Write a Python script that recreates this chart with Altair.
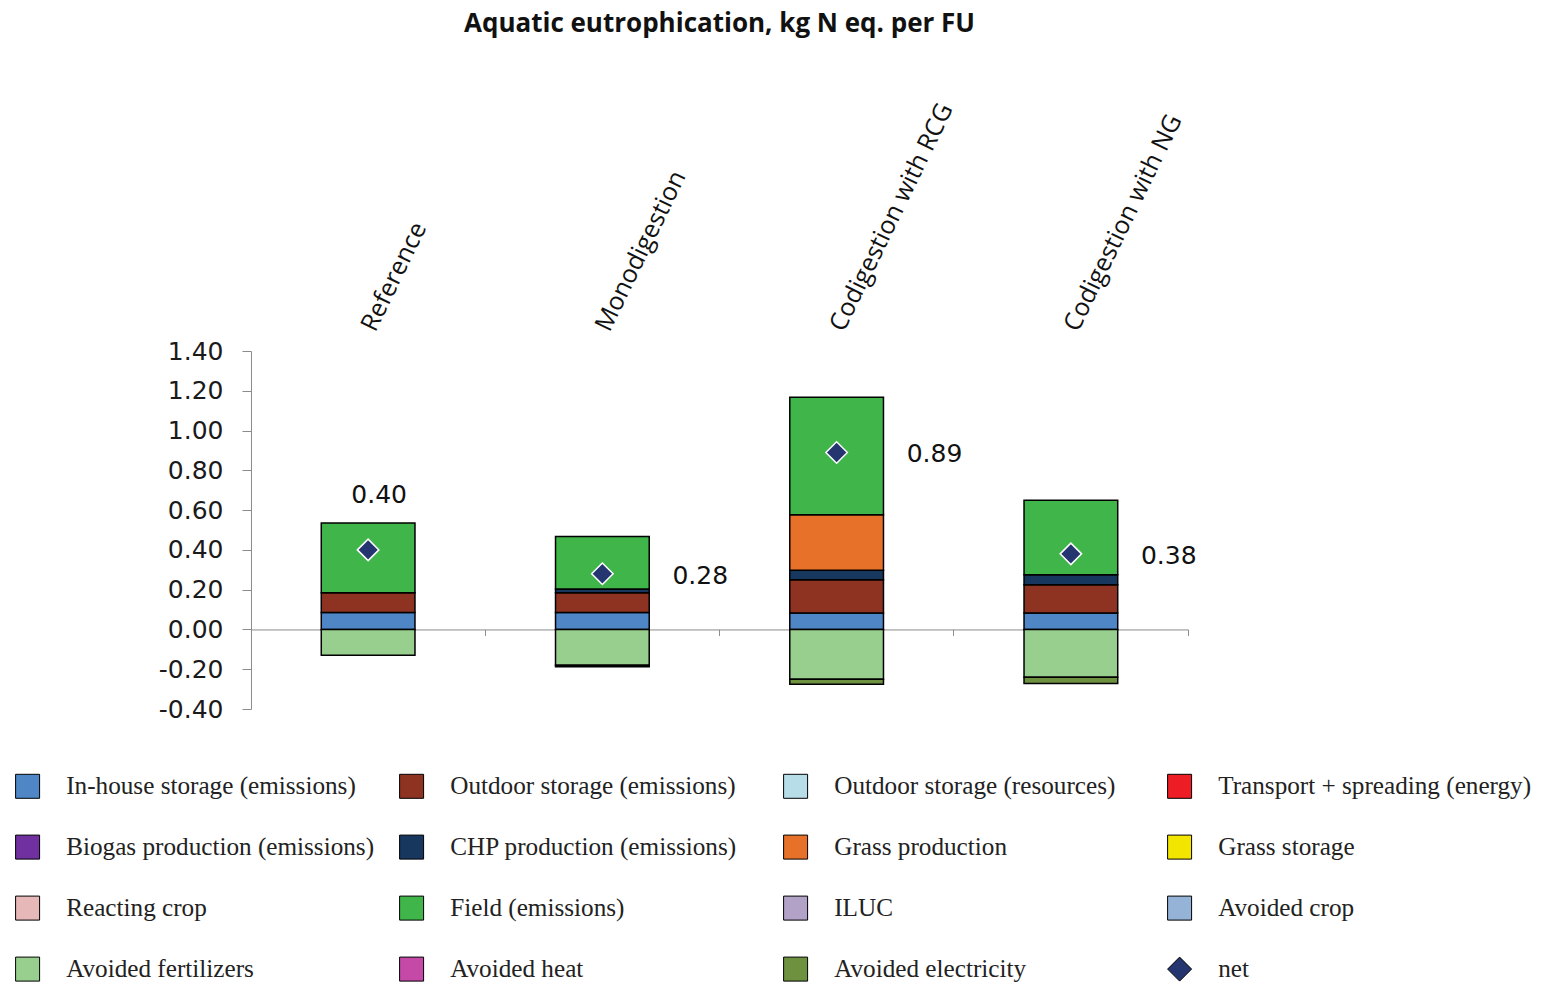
import altair as alt
import pandas as pd

categories = ["Reference", "Monodigestion", "Codigestion with RCG", "Codigestion with NG"]

components = [
    "In-house storage (emissions)", "Outdoor storage (emissions)", "Outdoor storage (resources)",
    "Transport + spreading (energy)", "Biogas production (emissions)", "CHP production (emissions)",
    "Grass production", "Grass storage", "Reacting crop", "Field (emissions)", "ILUC",
    "Avoided crop", "Avoided fertilizers", "Avoided heat", "Avoided electricity",
]
legend_order = components + ["net"]
colors = [
    "#4f86c6", "#8e3222", "#b7dde8", "#ee1c25", "#7030a0", "#17375e",
    "#e8712a", "#f2e600", "#e6b9b8", "#40b54a", "#b3a2c7", "#95b3d7",
    "#99cf8e", "#c54aa8", "#6e9140", "#253570",
]
shapes = ["square"] * 15 + ["diamond"]

in_house = [0.085, 0.085, 0.083, 0.083]
outdoor_em = [0.100, 0.100, 0.167, 0.142]
outdoor_res = [0.0, 0.0, 0.0, 0.0]
transport = [0.0, 0.0, 0.0, 0.0]
biogas = [0.0, 0.0, 0.0, 0.0]
chp = [0.0, 0.018, 0.047, 0.050]
grass_prod = [0.0, 0.0, 0.280, 0.0]
grass_storage = [0.0, 0.0, 0.0, 0.0]
reacting_crop = [0.0, 0.0, 0.0, 0.0]
field = [0.350, 0.264, 0.590, 0.374]
iluc = [0.0, 0.0, 0.0, 0.0]
avoided_crop = [0.0, 0.0, 0.0, 0.0]
avoided_fert = [-0.130, -0.180, -0.251, -0.240]
avoided_heat = [0.0, 0.0, 0.0, 0.0]
avoided_elec = [0.0, -0.008, -0.025, -0.032]
net = [0.40, 0.28, 0.89, 0.38]

y_ticks = [-0.4, -0.2, 0.0, 0.2, 0.4, 0.6, 0.8, 1.0, 1.2, 1.4]

series_values = [in_house, outdoor_em, outdoor_res, transport, biogas, chp, grass_prod,
                 grass_storage, reacting_crop, field, iluc, avoided_crop, avoided_fert,
                 avoided_heat, avoided_elec]

rows = []
for ci, comp in enumerate(components):
    for k, cat in enumerate(categories):
        rows.append({"category": cat, "component": comp, "value": series_values[ci][k], "idx": ci})
df = pd.DataFrame(rows)

pos_total = [sum(v[k] for v in series_values if v[k] > 0) for k in range(len(categories))]
net_df = pd.DataFrame({"category": categories, "net": net, "series": ["net"] * 4, "top": pos_total})

W, H = 937, 358
ymin, ymax = -0.4, 1.4
zero_offset = -(H * (0 - ymin) / (ymax - ymin))

xscale = alt.Scale(domain=categories, paddingInner=0.6, paddingOuter=0.3)
yscale = alt.Scale(domain=[ymin, ymax], nice=False)

legend = alt.Legend(
    title=None, orient="none", legendX=-236, legendY=422.5, columns=4, gridAlign="all",
    direction="horizontal",
    symbolSize=576, symbolStrokeColor="black", symbolStrokeWidth=1,
    labelFont="Liberation Serif", labelFontSize=25.2, labelColor="#222222", labelLimit=420,
    labelOffset=26, columnPadding=17, rowPadding=32,
)
color = alt.Color("component:N", scale=alt.Scale(domain=legend_order, range=colors), legend=legend)

x_top = alt.X("category:N", scale=xscale, sort=categories, title=None,
              axis=alt.Axis(orient="top", labelAngle=-64, domain=False, ticks=False,
                            labelFont="Open Sans", labelFontSize=25, labelColor="#111111",
                            labelPadding=22, labelLimit=400))
x_plain = alt.X("category:N", scale=xscale, sort=categories, axis=None)

y_axis = alt.Axis(values=y_ticks, grid=False, domainColor="#8c8c8c", tickColor="#8c8c8c",
                  labelExpr="datum.value < 0 ? '-' + format(-datum.value, '.2f') : format(datum.value, '.2f')",
                  labelOverlap=False, tickSize=9, labelPadding=19, labelFont="DejaVu Sans",
                  labelFontSize=25, labelColor="#1a1a1a", title=None)

bars = alt.Chart(df).transform_filter("datum.value != 0").mark_bar(
    stroke="black", strokeWidth=1.5
).encode(
    x=x_top,
    y=alt.Y("value:Q", stack="zero", scale=yscale, axis=y_axis),
    color=color,
    order=alt.Order("idx:Q"),
)

zero_axis = alt.Chart(net_df).mark_point(opacity=0).encode(
    x=alt.X("category:N", scale=xscale, sort=categories, title=None,
            axis=alt.Axis(orient="bottom", offset=zero_offset, labels=False, domainColor="#8c8c8c",
                          tickColor="#8c8c8c", tickSize=6, bandPosition=1.75)),
    y=alt.Y("net:Q", scale=yscale, axis=y_axis),
)

points = alt.Chart(net_df).mark_point(filled=True, stroke="white", strokeWidth=1.5, size=460, opacity=1).encode(
    x=x_plain,
    y=alt.Y("net:Q", scale=yscale, axis=y_axis),
    color=alt.Color("series:N", scale=alt.Scale(domain=legend_order, range=colors), legend=legend),
    shape=alt.Shape("series:N", scale=alt.Scale(domain=legend_order, range=shapes), legend=legend),
)

labels_side = alt.Chart(net_df).transform_filter("datum.category != 'Reference'").mark_text(
    align="left", baseline="middle", dx=70, dy=2, font="DejaVu Sans", fontSize=25, color="#111111"
).encode(
    x=x_plain,
    y=alt.Y("net:Q", scale=yscale, axis=y_axis),
    text=alt.Text("net:Q", format=".2f"),
)

labels_top = alt.Chart(net_df).transform_filter("datum.category == 'Reference'").mark_text(
    align="center", baseline="bottom", dx=11, dy=-15, font="DejaVu Sans", fontSize=25, color="#111111"
).encode(
    x=x_plain,
    y=alt.Y("top:Q", scale=yscale, axis=y_axis),
    text=alt.Text("net:Q", format=".2f"),
)

chart = alt.layer(bars, zero_axis, points, labels_side, labels_top).resolve_axis(
    x="independent"
).properties(
    width=W, height=H,
    title=alt.TitleParams("Aquatic eutrophication, kg N eq. per FU", font="Open Sans",
                          fontSize=26, fontWeight="bold", color="#111111", offset=62.5,
                          anchor="middle"),
    autosize=alt.AutoSizeParams(type="none"),
    padding={"left": 243, "top": 343, "right": 350, "bottom": 274},
).configure_view(stroke=None)

chart.save("out.html", embed_options={"renderer": "svg", "actions": False})
